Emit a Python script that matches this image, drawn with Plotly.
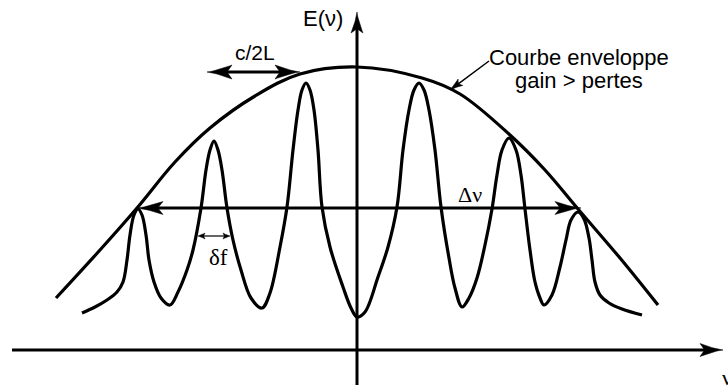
import math
import plotly.graph_objects as go

# ---- Data (frequency offset nu, amplitude E) ----
mode_nu = [-275, -262, -250, -240, -234, -230, -227, -223, -219, -215, -211, -208, -203, -196,
           -187, -179, -170, -164, -156, -151, -147, -143, -139, -135, -130, -124, -116, -106,
           -95, -87, -77, -70, -64, -59, -55, -51, -47, -43, -39, -35, -27, -14, -6,
           0, 8, 21, 31, 40, 46, 52, 57, 62, 67, 72, 78, 84, 92, 98,
           105, 112, 120, 128, 135, 140, 145, 152, 159, 164, 168, 173, 178, 183,
           187, 195, 203, 209, 214, 221, 227, 232, 235, 238, 243, 252, 265, 285]
mode_E = [37, 43, 50, 58, 68, 90, 115, 135, 141, 135, 115, 90, 68, 52,
          45, 58, 80, 100, 142, 180, 200, 209, 200, 180, 142, 110, 80, 52,
          42, 57, 103, 143, 200, 240, 260, 267, 260, 240, 200, 143, 103, 63, 42,
          33, 38, 73, 103, 143, 200, 240, 260, 267, 260, 240, 200, 143, 92, 62,
          43, 52, 72, 105, 141, 175, 200, 212, 200, 175, 141, 100, 68, 52,
          45, 55, 83, 110, 130, 138, 131, 112, 90, 68, 55, 47, 41, 35]

env_nu = [-301, -257, -220, -182, -147, -102, -57, 0, 65, 103, 153, 188, 221, 263, 301]
env_E = [52, 100, 142, 188, 222, 254, 276, 283, 272, 256, 215, 180, 141, 92, 45]

# axes extents
nu_axis = [-345, 366]
E_axis = [-35, 338]

# double arrows: (start, end, level)
delta_nu_span = [-220, 224]
delta_nu_level = 142
c2L_span = [-150, -57]
c2L_level = 278
delta_f_span = [-159, -127]
delta_f_level = 114

# pointer to the envelope curve (from, to)
pointer_nu = [132, 93]
pointer_E = [289, 260]

label_text = ["E(ν)", "c/2L", "Courbe enveloppe", "gain > pertes", "Δν", "δf"]
label_nu = [-34, -102, 222, 222, 113, -139]
label_E = [332, 298, 293, 270, 156, 93]

SANS = "Liberation Sans, Arial, sans-serif"
SERIF = "Liberation Serif, Times New Roman, serif"


def head(tx, ty, ux, uy, L, W, n=10):
    px, py = -uy, ux
    side1, side2 = [], []
    for i in range(n + 1):
        s = i / n
        d = s * L
        w = W * s ** 1.35
        side1.append((tx - ux * d + px * w, ty - uy * d + py * w))
        side2.append((tx - ux * d - px * w, ty - uy * d - py * w))
    pts = side1 + [(tx - ux * L * 0.8, ty - uy * L * 0.8)] + side2[::-1]
    return pts


heads_x, heads_y = [], []
lines = []  # (xs, ys, width)


def arrow(x0, y0, x1, y1, L, W, lw, both=False):
    dx, dy = x1 - x0, y1 - y0
    n = math.hypot(dx, dy)
    ux, uy = dx / n, dy / n
    ex, ey = x1 - ux * L * 0.7, y1 - uy * L * 0.7
    sx, sy = x0, y0
    for p in head(x1, y1, ux, uy, L, W):
        heads_x.append(p[0]); heads_y.append(p[1])
    heads_x.append(None); heads_y.append(None)
    if both:
        sx, sy = x0 + ux * L * 0.7, y0 + uy * L * 0.7
        for p in head(x0, y0, -ux, -uy, L, W):
            heads_x.append(p[0]); heads_y.append(p[1])
        heads_x.append(None); heads_y.append(None)
    lines.append(([sx, ex], [sy, ey], lw))


arrow(nu_axis[0], 0, nu_axis[1], 0, 23, 6.5, 3)
arrow(0, E_axis[0], 0, E_axis[1], 21, 6, 3)
arrow(delta_nu_span[0], delta_nu_level, delta_nu_span[1], delta_nu_level, 26, 6.5, 3, both=True)
arrow(c2L_span[0], c2L_level, c2L_span[1], c2L_level, 25, 7, 3, both=True)
arrow(delta_f_span[0], delta_f_level, delta_f_span[1], delta_f_level, 7, 3, 1.2, both=True)
arrow(pointer_nu[0], pointer_E[0], pointer_nu[1], pointer_E[1], 13, 4, 1.5)

fig = go.Figure()

for xs, ys, lw in lines:
    fig.add_trace(go.Scatter(x=xs, y=ys, mode="lines",
                             line=dict(color="black", width=lw), hoverinfo="skip"))

fig.add_trace(go.Scatter(x=env_nu, y=env_E, mode="lines",
                         line=dict(color="black", width=3.2, shape="spline", smoothing=1.0),
                         hoverinfo="skip"))
fig.add_trace(go.Scatter(x=mode_nu, y=mode_E, mode="lines",
                         line=dict(color="black", width=3.2, shape="spline", smoothing=1.0),
                         hoverinfo="skip"))
fig.add_trace(go.Scatter(x=heads_x, y=heads_y, mode="lines", fill="toself",
                         fillcolor="black", line=dict(color="black", width=0.5),
                         hoverinfo="skip"))

fonts = [SANS, SANS, SANS, SANS, SERIF, SERIF]
sizes = [22, 21, 22, 22, 22, 23]
for t, x, y, f, s in zip(label_text, label_nu, label_E, fonts, sizes):
    fig.add_annotation(x=x, y=y, text=t, showarrow=False,
                       font=dict(family=f, size=s, color="black"),
                       xanchor="center", yanchor="middle")

fig.add_annotation(x=363, y=-27, text="ν", showarrow=False, xanchor="left", yanchor="middle",
                   font=dict(family=SERIF, size=22, color="black"))

fig.update_layout(
    width=728, height=385, autosize=False,
    margin=dict(l=0, r=0, t=0, b=0),
    paper_bgcolor="white", plot_bgcolor="white",
    showlegend=False, hovermode=False,
    xaxis=dict(range=[-357, 371], visible=False, fixedrange=True),
    yaxis=dict(range=[-35, 350], visible=False, fixedrange=True),
)

fig.write_html("out.html", config={"displayModeBar": False},
               post_script="document.body.style.margin='0';document.body.style.overflow='hidden';")
